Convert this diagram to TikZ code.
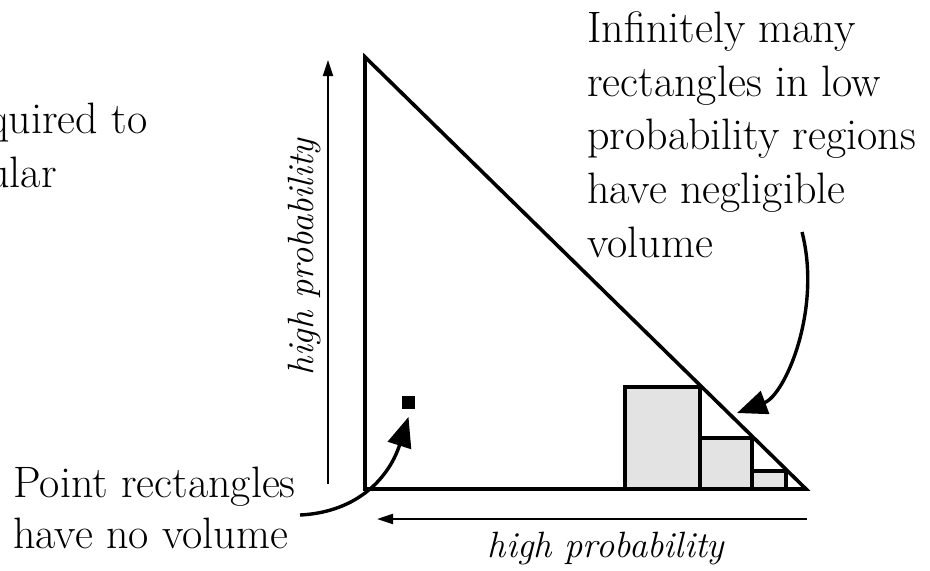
\documentclass[tikz,border=0pt]{standalone}
\usetikzlibrary{arrows.meta}

\begin{document}
\begin{tikzpicture}[x=0.5pt, y=-0.5pt,
  note/.style={align=left, inner sep=0pt, font=\fontsize{22}{26.8}\selectfont},
  axlbl/.style={inner sep=0pt, font=\fontsize{18.3}{21}\selectfont\itshape},
  region/.style={line width=1.8pt, line join=miter},
  cell/.style={draw, line width=1.8pt, fill=gray!22},
  axis/.style={line width=1pt, -{Triangle[length=8pt,width=5pt]}},
  callout/.style={line width=1.7pt, -{Triangle[length=15pt,width=12pt]}},
  pointrect/.style={fill=black, minimum size=6.5pt, inner sep=0pt},
]
  \useasboundingbox (0,0) rectangle (930,570);

  % --- the region and its corners ------------------------------------
  \coordinate (top) at (365,57);
  \coordinate (org) at (365,489);
  \coordinate (far) at (806,489);

  % --- rectangles under the slope -------------------------------------
  \draw[cell] (625,489) rectangle (700,387);
  \draw[cell] (700,489) rectangle (752,438);
  \draw[cell] (752,489) rectangle (786,471);
  \draw[region] (top) -- (org) -- (far) -- cycle;

  % --- a point rectangle ------------------------------------------------
  \node[pointrect] (pt) at (408.5,402) {};

  % --- axes ---------------------------------------------------------------
  \coordinate (ybot) at (328,484);
  \coordinate (ytop) at (328,60);
  \draw[axis] (ybot) -- (ytop);
  \node[axlbl, rotate=90, anchor=base] (ylbl) at (313,257) {high probability};
  \coordinate (xright) at (807,519);
  \coordinate (xleft) at (377,519);
  \draw[axis] (xright) -- (xleft);
  \node[axlbl, anchor=base] (xlbl) at (606,557) {high probability};

  % --- notes (base = last line) ----------------------------------------------
  \node[note, anchor=base west] (cutlbl) at (-13,187) {quired to\\ular};
  \node[note, anchor=base west] (inflbl) at (587,257)
    {Infinitely many\\rectangles in low\\probability regions\\have negligible\\volume};
  \node[note, anchor=base west] (ptlbl) at (13,548) {Point rectangles\\[-1.5pt]have no volume};

  % --- callouts ---------------------------------------------------------------
  \coordinate (infstart) at (802,232);
  \coordinate (aim) at (737,413);
  \draw[callout] (infstart) .. controls (822,310) and (785,395) .. (aim);
  \coordinate (ptstart) at (300,515);
  \draw[callout] (ptstart) .. controls (360,512) and (390,475) .. ([yshift=-4pt]pt.south);
\end{tikzpicture}
\end{document}
